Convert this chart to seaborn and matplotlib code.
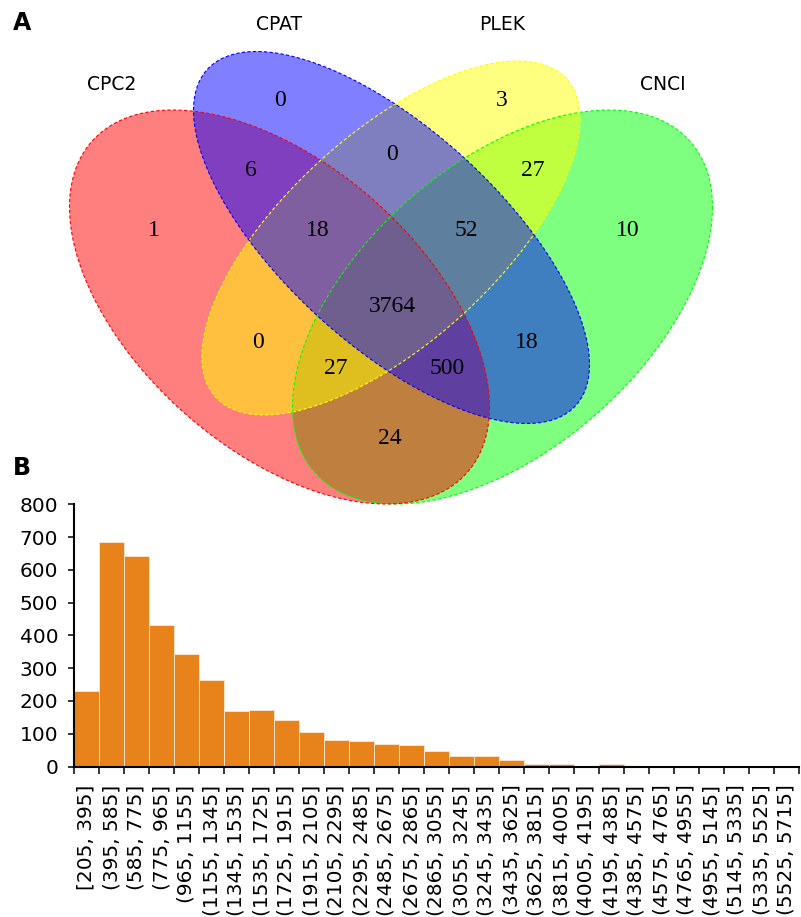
import numpy as np
import matplotlib
matplotlib.use("Agg")
import matplotlib.pyplot as plt
import seaborn as sns

# --- panel A: 4-set venn (CPC2, CPAT, PLEK, CNCI) ---
set_names = ["CPC2", "CPAT", "PLEK", "CNCI"]
set_colors = ["#FF0000", "#0000FF", "#FFFF00", "#00FF00"]

region_keys = ["CPC2", "CPAT", "PLEK", "CNCI",
               "CPC2&CPAT", "CPAT&PLEK", "PLEK&CNCI", "CPC2&PLEK",
               "CPAT&CNCI", "CPC2&CNCI",
               "CPC2&CPAT&PLEK", "CPAT&PLEK&CNCI", "CPC2&PLEK&CNCI",
               "CPC2&CPAT&CNCI", "CPC2&CPAT&PLEK&CNCI"]
region_counts = [1, 0, 3, 10,
                 6, 0, 27, 0,
                 18, 24,
                 18, 52, 27,
                 500, 3764]

# --- panel B: length distribution ---
bin_labels = ["[205, 395]", "(395, 585]", "(585, 775]", "(775, 965]",
              "(965, 1155]", "(1155, 1345]", "(1345, 1535]", "(1535, 1725]",
              "(1725, 1915]", "(1915, 2105]", "(2105, 2295]", "(2295, 2485]",
              "(2485, 2675]", "(2675, 2865]", "(2865, 3055]", "(3055, 3245]",
              "(3245, 3435]", "(3435, 3625]", "(3625, 3815]", "(3815, 4005]",
              "(4005, 4195]", "(4195, 4385]", "(4385, 4575]", "(4575, 4765]",
              "(4765, 4955]", "(4955, 5145]", "(5145, 5335]", "(5335, 5525]",
              "(5525, 5715]"]
bin_counts = [231, 686, 641, 431, 343, 265, 170, 173, 141, 105, 81, 77,
              70, 66, 47, 32, 32, 21, 8, 8, 0, 8, 0, 0, 0, 0, 0, 0, 0]

W, H = 801, 917

sns.set_style("ticks")
plt.rcParams["font.family"] = ["DejaVu Sans"]
plt.rcParams.update({"text.color": "black", "xtick.color": "black",
                     "ytick.color": "black", "axes.edgecolor": "black",
                     "axes.labelcolor": "black"})

fig = plt.figure(figsize=(W / 100, H / 100), dpi=100)

# venn drawn in pixel coordinates
ax_v = fig.add_axes([0, 0, 1, 1], zorder=0)
ax_v.set_xlim(0, W)
ax_v.set_ylim(H, 0)
ax_v.axis("off")

# ellipse shapes: centre, half width, half height, xy covariance
ellipses = {
    "CPC2": (279.5, 307, 210, 197, 21000),
    "CPAT": (391.5, 237.5, 198, 186, 25166),
    "PLEK": (391.0, 238, 189, 177, -22426),
    "CNCI": (502.5, 307, 210, 197, -21000),
}


def ellipse_xy(cx, cy, hw, hh, c, n=500):
    t = np.linspace(0, 2 * np.pi, n)
    l21 = c / hw
    l22 = np.sqrt(hh ** 2 - l21 ** 2)
    return cx + hw * np.cos(t), cy + l21 * np.cos(t) + l22 * np.sin(t)


draw_order = ["CNCI", "CPC2", "PLEK", "CPAT"]
colors = dict(zip(set_names, set_colors))
for name in draw_order:
    x, y = ellipse_xy(*ellipses[name])
    ax_v.fill(x, y, color=colors[name], alpha=0.5, lw=0)
for name in draw_order:
    x, y = ellipse_xy(*ellipses[name])
    ax_v.plot(x, y, color=colors[name], lw=0.8, ls=(0, (3, 2)))

name_pos = {"CPC2": (112, 85), "CPAT": (279, 24), "PLEK": (502, 24),
            "CNCI": (663, 85)}
for name in set_names:
    ax_v.text(*name_pos[name], name, ha="center", va="center", fontsize=13.5)

region_pos = {
    "CPC2": (154, 231), "CPAT": (280, 100), "PLEK": (502, 100),
    "CNCI": (628, 231),
    "CPC2&CPAT": (251, 170), "CPAT&PLEK": (392, 155), "PLEK&CNCI": (533, 170),
    "CPC2&PLEK": (258, 342), "CPAT&CNCI": (527, 342), "CPC2&CNCI": (390, 439),
    "CPC2&CPAT&PLEK": (318, 231), "CPAT&PLEK&CNCI": (466, 231),
    "CPC2&PLEK&CNCI": (336, 369), "CPC2&CPAT&CNCI": (447, 369),
    "CPC2&CPAT&PLEK&CNCI": (392, 307),
}
for key, cnt in zip(region_keys, region_counts):
    ax_v.text(*region_pos[key], str(cnt), ha="center", va="center",
              fontsize=17, family="Liberation Serif")

ax_v.text(22, 23, "A", ha="center", va="center", fontsize=17, fontweight="bold")
ax_v.text(22, 468, "B", ha="center", va="center", fontsize=17, fontweight="bold")

# histogram
ax_h = fig.add_axes([74 / W, 1 - 766.5 / H, 725 / W, 262.2 / H], zorder=1)
ax_h.set_facecolor("none")
sns.barplot(x=bin_labels, y=bin_counts, color="#E8821A", saturation=1,
            width=1, edgecolor="#FBE3C8", linewidth=0.7, ax=ax_h)
ax_h.set_xlim(-0.5, len(bin_labels) - 0.5)
ax_h.set_ylim(0, 800)
ax_h.set_yticks(range(0, 801, 100))
ax_h.set_xticks(np.arange(-0.5, len(bin_labels), 1))
ax_h.set_xticklabels([])
ax_h.set_xticks(np.arange(len(bin_labels)), minor=True)
ax_h.set_xticklabels(bin_labels, minor=True, rotation=90)
ax_h.set_xlabel("")
ax_h.set_ylabel("")
ax_h.tick_params(axis="x", which="major", length=5, width=1.1, direction="out")
ax_h.tick_params(axis="x", which="minor", length=0, pad=13, labelsize=14.5)
ax_h.tick_params(axis="y", length=4.3, width=1.1, pad=7, labelsize=14.5)
sns.despine(ax=ax_h)
for s in ["left", "bottom"]:
    ax_h.spines[s].set_linewidth(1.5)

fig.savefig("out.png", dpi=100)
